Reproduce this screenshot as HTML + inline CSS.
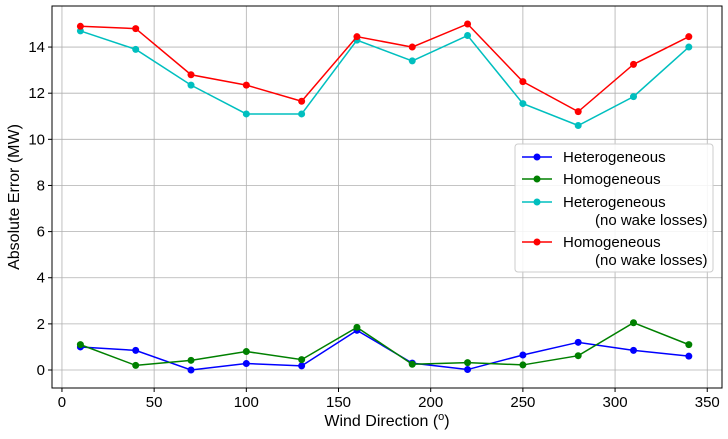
<!DOCTYPE html>
<html><head><meta charset="utf-8">
<style>
body{margin:0;background:#fff;}
svg{font-family:"Liberation Sans",sans-serif;}
</style></head>
<body>
<svg id="chart" width="728" height="434" xmlns="http://www.w3.org/2000/svg"></svg>
<script>
const directions=[10,40,70,100,130,160,190,220,250,280,310,340];
const heterogeneous=[1.0,0.85,0.0,0.28,0.18,1.72,0.3,0.02,0.65,1.2,0.85,0.6];
const homogeneous=[1.1,0.2,0.42,0.8,0.45,1.85,0.25,0.32,0.22,0.62,2.05,1.1];
const heteroNoWake=[14.7,13.9,12.35,11.1,11.1,14.3,13.4,14.5,11.55,10.6,11.85,14.0];
const homoNoWake=[14.9,14.8,12.8,12.35,11.65,14.45,14.0,15.0,12.5,11.2,13.25,14.45];
const xTicks=[0,50,100,150,200,250,300,350];
const yTicks=[0,2,4,6,8,10,12,14];
const L=52,R=722,T=6,B=388;
const xMin=-5.4,xMax=358,yMin=-0.78,yMax=15.78;
const sx=v=>L+(v-xMin)/(xMax-xMin)*(R-L);
const sy=v=>B-(v-yMin)/(yMax-yMin)*(B-T);
const svg=document.getElementById('chart');
const NS='http://www.w3.org/2000/svg';
function mk(tag,attrs,parent){const e=document.createElementNS(NS,tag);for(const k in attrs)e.setAttribute(k,attrs[k]);(parent||svg).appendChild(e);return e;}
const grid=mk('g',{});


xTicks.forEach(t=>{
 mk('line',{x1:sx(t),x2:sx(t),y1:T,y2:B,stroke:'#b0b0b0','stroke-width':0.8},grid);
 mk('line',{x1:sx(t),x2:sx(t),y1:B,y2:B+4,stroke:'#000'});
 const tx=mk('text',{x:sx(t),y:B+19,'text-anchor':'middle','font-size':15});
 tx.textContent=t;
 
 
});
yTicks.forEach(t=>{
 mk('line',{x1:L,x2:R,y1:sy(t),y2:sy(t),stroke:'#b0b0b0','stroke-width':0.8},grid);
 mk('line',{x1:L-4,x2:L,y1:sy(t),y2:sy(t),stroke:'#000'});
 const tx=mk('text',{x:L-7,y:sy(t)+5,'text-anchor':'end','font-size':15});
 tx.textContent=t;
 
 
});
const series=[[heterogeneous,'#0000ff','heterogeneous'],[homogeneous,'#008000','homogeneous'],[heteroNoWake,'#00bfbf','heterogeneous-no-wake'],[homoNoWake,'#ff0000','homogeneous-no-wake']];
series.forEach(([vals,c,n])=>{
 const g=mk('g',{});
 
 
 mk('polyline',{points:vals.map((v,i)=>sx(directions[i])+','+sy(v)).join(' '),fill:'none',stroke:c,'stroke-width':1.5},g);
 vals.forEach((v,i)=>{const p=mk('circle',{cx:sx(directions[i]),cy:sy(v),r:3.5,fill:c},g);
  
  });
});
mk('rect',{x:L,y:T,width:R-L,height:B-T,fill:'none',stroke:'#000','stroke-width':1});
const xl=mk('text',{x:(L+R)/2,y:426,'text-anchor':'middle','font-size':16});
xl.innerHTML='Wind Direction (<tspan baseline-shift="super" font-size="11">o</tspan>)';


const yl=mk('text',{x:19,y:(T+B)/2,'text-anchor':'middle','font-size':16,transform:`rotate(-90 19 ${(T+B)/2})`});
yl.textContent='Absolute Error (MW)';


const lg=mk('g',{});


mk('rect',{x:515,y:144,width:198,height:128,fill:'#fff','fill-opacity':0.85,stroke:'#ccc',rx:3},lg);
const entries=[['Heterogeneous',null,'#0000ff',157],['Homogeneous',null,'#008000',179],['Heterogeneous','(no wake losses)','#00bfbf',202],['Homogeneous','(no wake losses)','#ff0000',242]];
entries.forEach(([a,b,c,y])=>{
 const g=mk('g',{},lg);
 
 
 mk('line',{x1:522,x2:552,y1:y,y2:y,stroke:c,'stroke-width':1.5},g);
 mk('circle',{cx:537,cy:y,r:3.5,fill:c},g);
 const t=mk('text',{x:563,y:y+5,'font-size':15},g);t.textContent=a;
 if(b){const t2=mk('text',{x:595,y:y+23,'font-size':15},g);t2.textContent=b;}
});
</script>
</body></html>
